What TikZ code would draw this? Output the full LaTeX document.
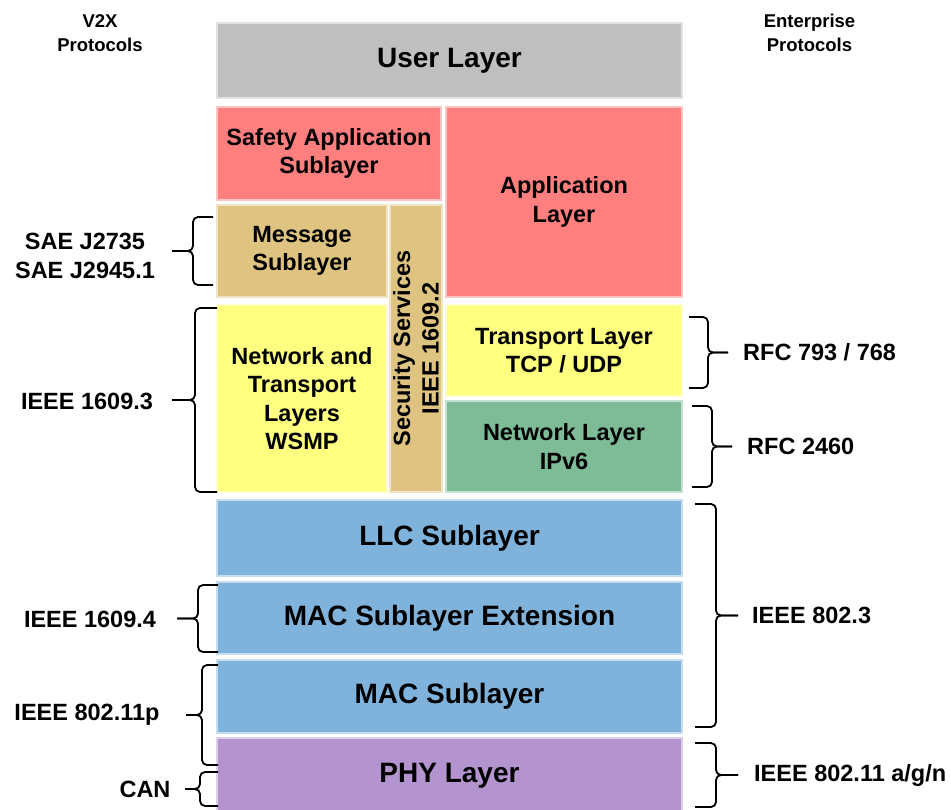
\documentclass[tikz,border=0pt]{standalone}
\usepackage{fontspec}
\setmainfont{Liberation Sans}
\definecolor{userG}{RGB}{191,191,191}
\definecolor{appR}{RGB}{255,126,126}
\definecolor{msgT}{RGB}{222,196,128}
\definecolor{netY}{RGB}{255,255,128}
\definecolor{ipG}{RGB}{126,188,152}
\definecolor{linkB}{RGB}{127,179,220}
\definecolor{phyP}{RGB}{180,148,206}
% brace: end x, spine x, tip x, top y, bottom y
\newcommand{\protobrace}[5]{%
  \draw[brc] (#1,#4) -- (#2,#4) -- (#2,{(#4+#5)/2}) -- (#3,{(#4+#5)/2});
  \draw[brc] (#1,#5) -- (#2,#5) -- (#2,{(#4+#5)/2}) -- (#3,{(#4+#5)/2});}
\begin{document}
\begin{tikzpicture}[x=1pt,y=-1pt,
  layer/.style={fill=#1, draw=#1, draw opacity=0.45, line width=4pt,
    inner sep=0pt, align=center, text=black,
    font=\bfseries\fontsize{23.5}{28.6}\selectfont},
  big/.style={font=\bfseries\fontsize{28}{33}\selectfont},
  lbl/.style={align=center, inner sep=0pt,
    font=\bfseries\fontsize{23.5}{28.6}\selectfont},
  head/.style={align=center, inner sep=0pt,
    font=\bfseries\fontsize{18.5}{23.5}\selectfont},
  brc/.style={line width=1.8pt, rounded corners=5pt}
]
\useasboundingbox (0,0) rectangle (951,810);

% protocol stack
\node[layer=userG, big, minimum width=463pt, minimum height=73pt] (user) at (449.5,60.5) {User Layer};
\node[layer=appR, minimum width=222pt, minimum height=91pt] (safety) at (329,153.5) {Safety Application\\Sublayer};
\node[layer=appR, minimum width=234pt, minimum height=188pt] (app) at (564,202) {Application\\Layer};
\node[layer=msgT, minimum width=168pt, minimum height=90pt] (msg) at (302,251) {Message\\Sublayer};
\node[layer=msgT, minimum width=50pt, minimum height=285pt] (sec) at (416,348.5) {};
\node[lbl, rotate=90] (sectext) at (sec.center) {Security Services\\IEEE 1609.2};
\node[layer=netY, minimum width=168pt, minimum height=185pt] (wsmp) at (302,398.5) {Network and\\Transport\\Layers\\WSMP};
\node[layer=netY, minimum width=234pt, minimum height=89pt] (trans) at (564,350.5) {Transport Layer\\TCP / UDP};
\node[layer=ipG, minimum width=234pt, minimum height=89pt] (net) at (564,446.5) {Network Layer\\IPv6};
\node[layer=linkB, big, minimum width=463pt, minimum height=74pt] (llc) at (449.5,538) {LLC Sublayer};
\node[layer=linkB, big, minimum width=463pt, minimum height=70pt] (macx) at (449.5,618) {MAC Sublayer Extension};
\node[layer=linkB, big, minimum width=463pt, minimum height=71pt] (mac) at (449.5,696.5) {MAC Sublayer};
\node[layer=phyP, big, minimum width=463pt, minimum height=74pt] (phy) at (449.5,776) {PHY Layer};

% column headings
\node[head] (v2x) at (100,33) {V2X\\Protocols};
\node[head] (ent) at (809.5,33) {Enterprise\\Protocols};

% V2X protocol braces and labels
\protobrace{213}{193}{172}{217}{285}
\node[lbl] (sae) at (85,256) {SAE J2735\\SAE J2945.1};
\protobrace{217}{195}{172}{308}{492}
\node[lbl] (w1609) at (87,401) {IEEE 1609.3};
\protobrace{218}{198}{177}{585}{652}
\node[lbl] (m1609) at (90,619) {IEEE 1609.4};
\protobrace{218}{202}{186}{665}{765}
\node[lbl] (p80211) at (87,715) {IEEE 802.11p};
\protobrace{218}{200}{185}{772}{806}
\node[lbl] (can) at (145,789) {CAN};

% enterprise protocol braces and labels
\protobrace{689}{708}{728}{317}{388}
\node[lbl, anchor=west] (rfc793) at (743,352.5) {RFC 793 / 768};
\protobrace{692}{712}{732}{406}{487}
\node[lbl, anchor=west] (rfc2460) at (747,446.5) {RFC 2460};
\protobrace{695}{716}{738}{504}{727}
\node[lbl, anchor=west] (e8023) at (752,615.5) {IEEE 802.3};
\protobrace{695}{716}{738}{743}{807}
\node[lbl, anchor=west] (e80211) at (754,775) {IEEE 802.11 a/g/n};
\end{tikzpicture}
\end{document}
